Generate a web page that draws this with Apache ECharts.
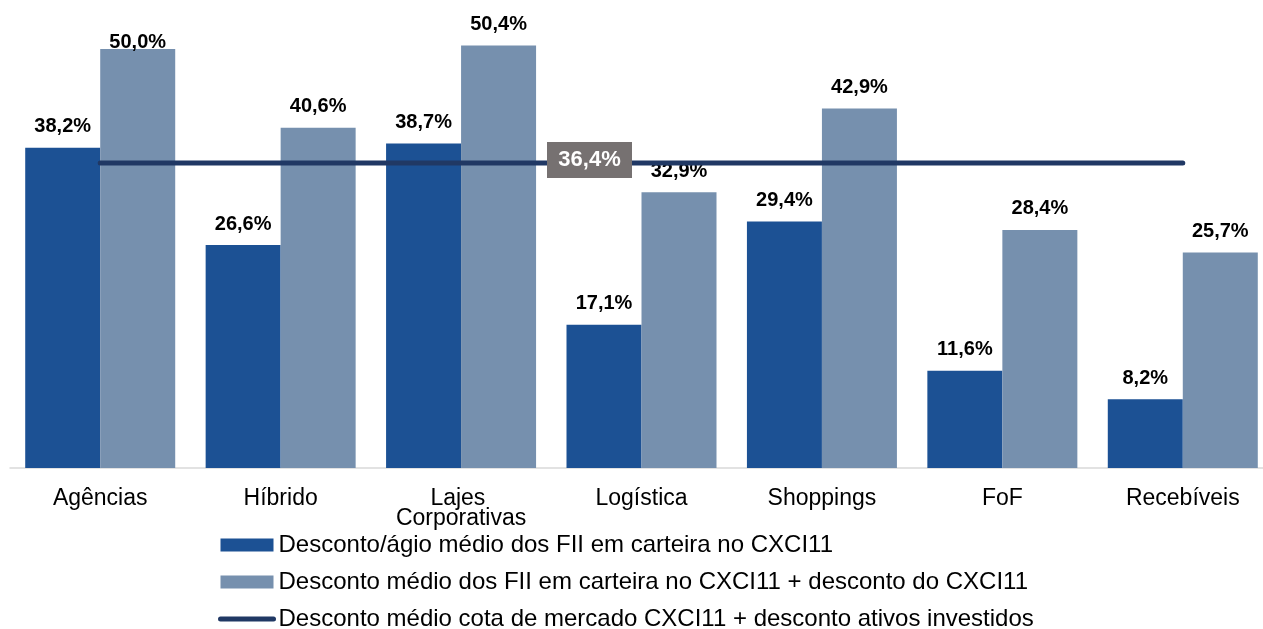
<!DOCTYPE html>
<html>
<head>
<meta charset="utf-8">
<script src="https://cdn.jsdelivr.net/npm/echarts@6/dist/echarts.min.js"></script>
<style>
  html, body { margin: 0; padding: 0; background: #fff; }
  #chart { width: 1263px; height: 629px; }
</style>
</head>
<body>
<div id="chart"></div>
<script>
let categories = ['Agências', 'Híbrido', 'Lajes Corporativas', 'Logística', 'Shoppings', 'FoF', 'Recebíveis']
let descontoAgio = [38.2, 26.6, 38.7, 17.1, 29.4, 11.6, 8.2]
let descontoTotal = [50.0, 40.6, 50.4, 32.9, 42.9, 28.4, 25.7]
let descontoMercado = [36.4, 36.4, 36.4, 36.4, 36.4, 36.4, 36.4]

let names = [
    'Desconto/ágio médio dos FII em carteira no CXCI11',
    'Desconto médio dos FII em carteira no CXCI11 + desconto do CXCI11',
    'Desconto médio cota de mercado CXCI11 + desconto ativos investidos'
]

function pct(v) {
    return v.toFixed(1).replace('.', ',') + '%'
}

let font = 'Liberation Sans, Arial, sans-serif'

let labelStyle = {
    show: true,
    position: 'top',
    distance: 11,
    color: '#000',
    fontFamily: font,
    fontWeight: 'bold',
    fontSize: 20,
    formatter: p => pct(p.value)
}

// o rótulo de 50,0% fica colado no topo da barra
let totalData = descontoTotal.map((v, i) => i === 0 ? {value: v, label: {distance: -4}} : v)

let chart = echarts.init(document.getElementById('chart'))
let option = {
    animation: false,
    grid: {left: 10, right: -10, top: 7, bottom: 161, outerBoundsMode: 'none'},
    legend: {
        orient: 'vertical',
        left: 218,
        top: 533,
        height: 120,
        padding: 0,
        itemWidth: 53,
        itemHeight: 13,
        itemGap: 13,
        textStyle: {fontFamily: font, fontSize: 24, color: '#000', lineHeight: 20},
        data: [
            {name: names[0], icon: 'rect'},
            {name: names[1], icon: 'rect'},
            {name: names[2], itemStyle: {opacity: 0}, lineStyle: {width: 5, cap: 'round'}}
        ]
    },
    xAxis: {
        type: 'category',
        data: categories,
        axisLine: {lineStyle: {color: '#d9d9d9', width: 1.5}},
        axisTick: {length: 7, lineStyle: {color: '#d9d9d9', width: 1.5}},
        axisLabel: {
            color: '#000',
            fontFamily: font,
            fontSize: 23,
            lineHeight: 20,
            margin: 21,
            width: 170,
            overflow: 'break',
            interval: 0
        }
    },
    yAxis: {
        type: 'value',
        min: 0,
        max: 55,
        show: false,
        splitLine: {show: false}
    },
    series: [
        {
            name: names[0],
            type: 'bar',
            data: descontoAgio,
            barWidth: 75,
            barGap: '0%',
            itemStyle: {color: '#1c5194'},
            label: labelStyle
        },
        {
            name: names[1],
            type: 'bar',
            data: totalData,
            barWidth: 75,
            itemStyle: {color: '#7690ae'},
            label: labelStyle
        },
        {
            name: names[2],
            type: 'line',
            data: descontoMercado,
            symbol: 'none',
            z: 3,
            lineStyle: {color: '#203864', width: 5, cap: 'round'},
            itemStyle: {color: '#203864'},
            markPoint: {
                z: 10,
                symbol: 'rect',
                symbolSize: [85, 36],
                symbolOffset: [-52, -3],
                itemStyle: {color: '#767171'},
                label: {
                    show: true,
                    position: 'inside',
                    color: '#fff',
                    fontFamily: font,
                    fontWeight: 'bold',
                    fontSize: 22,
                    formatter: p => pct(p.value)
                },
                data: [{coord: [3, descontoMercado[3]], value: descontoMercado[3]}]
            }
        }
    ]
}
chart.setOption(option)
</script>
</body>
</html>
